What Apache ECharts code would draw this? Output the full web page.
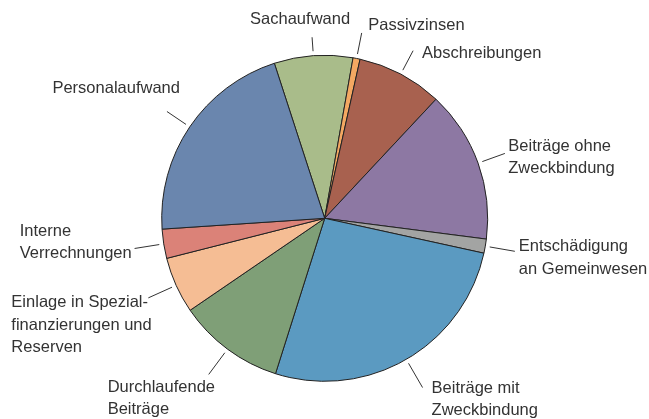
<!DOCTYPE html>
<html>
<head>
<meta charset="utf-8">
<script src="https://cdn.jsdelivr.net/npm/echarts@6/dist/echarts.min.js"></script>
<style>
  html, body { margin: 0; padding: 0; background: #fff; }
  #chart { width: 649px; height: 419px; }
</style>
</head>
<body>
<div id="chart"></div>
<script>
// Anteile in Prozent, im Uhrzeigersinn ab Sachaufwand
const categories = [
  'Sachaufwand',
  'Passivzinsen',
  'Abschreibungen',
  'Beiträge ohne\nZweckbindung',
  'Entschädigung\nan Gemeinwesen',
  'Beiträge mit\nZweckbindung',
  'Durchlaufende\nBeiträge',
  'Einlage in Spezial-\nfinanzierungen und\nReserven',
  'Interne\nVerrechnungen',
  'Personalaufwand'
];
const values = [7.8, 0.7, 8.5, 15.1, 1.4, 26.5, 10.6, 5.6, 2.9, 21.1];

const colors = ['#a9bc8a', '#f3a862', '#a8614f', '#8d78a3', '#a3a4a3',
                '#5b9ac1', '#7f9f77', '#f5bd94', '#db8278', '#6a86ae'];
// Länge der Hinweislinien
const lineLen = [14, 21.5, 22, 24, 25.5, 28, 27, 26, 25, 23];
// Lage der Beschriftung relativ zum Linienende
const labelAlign = ['center', 'left', 'left', 'left', 'left', 'left', 'block', 'block', 'block', 'right'];
const labelDx = [-12, 6.6, 9, 3.4, 4, 9, 6.3, 3.4, -2.9, 13];
const labelDy = [-17.5, -7.5, 2.5, 4, 6.7, 12, 24, 27.5, -6, -23];

const R = 163;
const center = [324.7, 218.3];

var myChart = echarts.init(document.getElementById('chart'));

const pieData = categories.map((name, i) => ({
  name: name,
  value: values[i],
  itemStyle: { color: colors[i] }
}));

const labelData = categories.map((name, i) => ({
  name: name,
  value: values[i],
  labelLine: { length: lineLen[i] }
}));

const option = {
  backgroundColor: '#ffffff',
  animation: false,
  series: [{
    name: 'Anteile',
    type: 'pie',
    center: center,
    radius: [0, R],
    startAngle: 108,
    clockwise: true,
    silent: true,
    label: { show: false },
    labelLine: { show: false },
    itemStyle: {
      borderColor: '#222',
      borderWidth: 1
    },
    data: pieData,
    z: 2
  }, {
    // unsichtbarer Ring, trägt die Beschriftungen mit Abstand zum Kreis
    name: 'Beschriftung',
    type: 'pie',
    center: center,
    radius: [0, R + 4.5],
    startAngle: 108,
    clockwise: true,
    silent: true,
    avoidLabelOverlap: false,
    itemStyle: { color: 'rgba(0,0,0,0)', borderWidth: 0 },
    label: {
      show: true,
      position: 'outside',
      formatter: '{b}',
      color: '#333',
      fontFamily: 'Liberation Sans, Arial, sans-serif',
      fontSize: 16.5,
      lineHeight: 22.5
    },
    labelLine: {
      show: true,
      length: 22,
      length2: 0,
      smooth: false,
      lineStyle: { color: '#333', width: 1 }
    },
    labelLayout: function (params) {
      const pts = params.labelLinePoints;
      if (!pts) return {};
      const end = pts[pts.length - 1];
      const i = params.dataIndex;
      let x = end[0] + labelDx[i];
      let align = labelAlign[i];
      if (align === 'block') {
        x = x - params.labelRect.width;
        align = 'left';
      }
      return {
        x: x,
        y: end[1] + labelDy[i],
        align: align,
        verticalAlign: 'middle',
        labelLinePoints: pts
      };
    },
    data: labelData,
    z: 3
  }]
};

myChart.setOption(option);
</script>
</body>
</html>
